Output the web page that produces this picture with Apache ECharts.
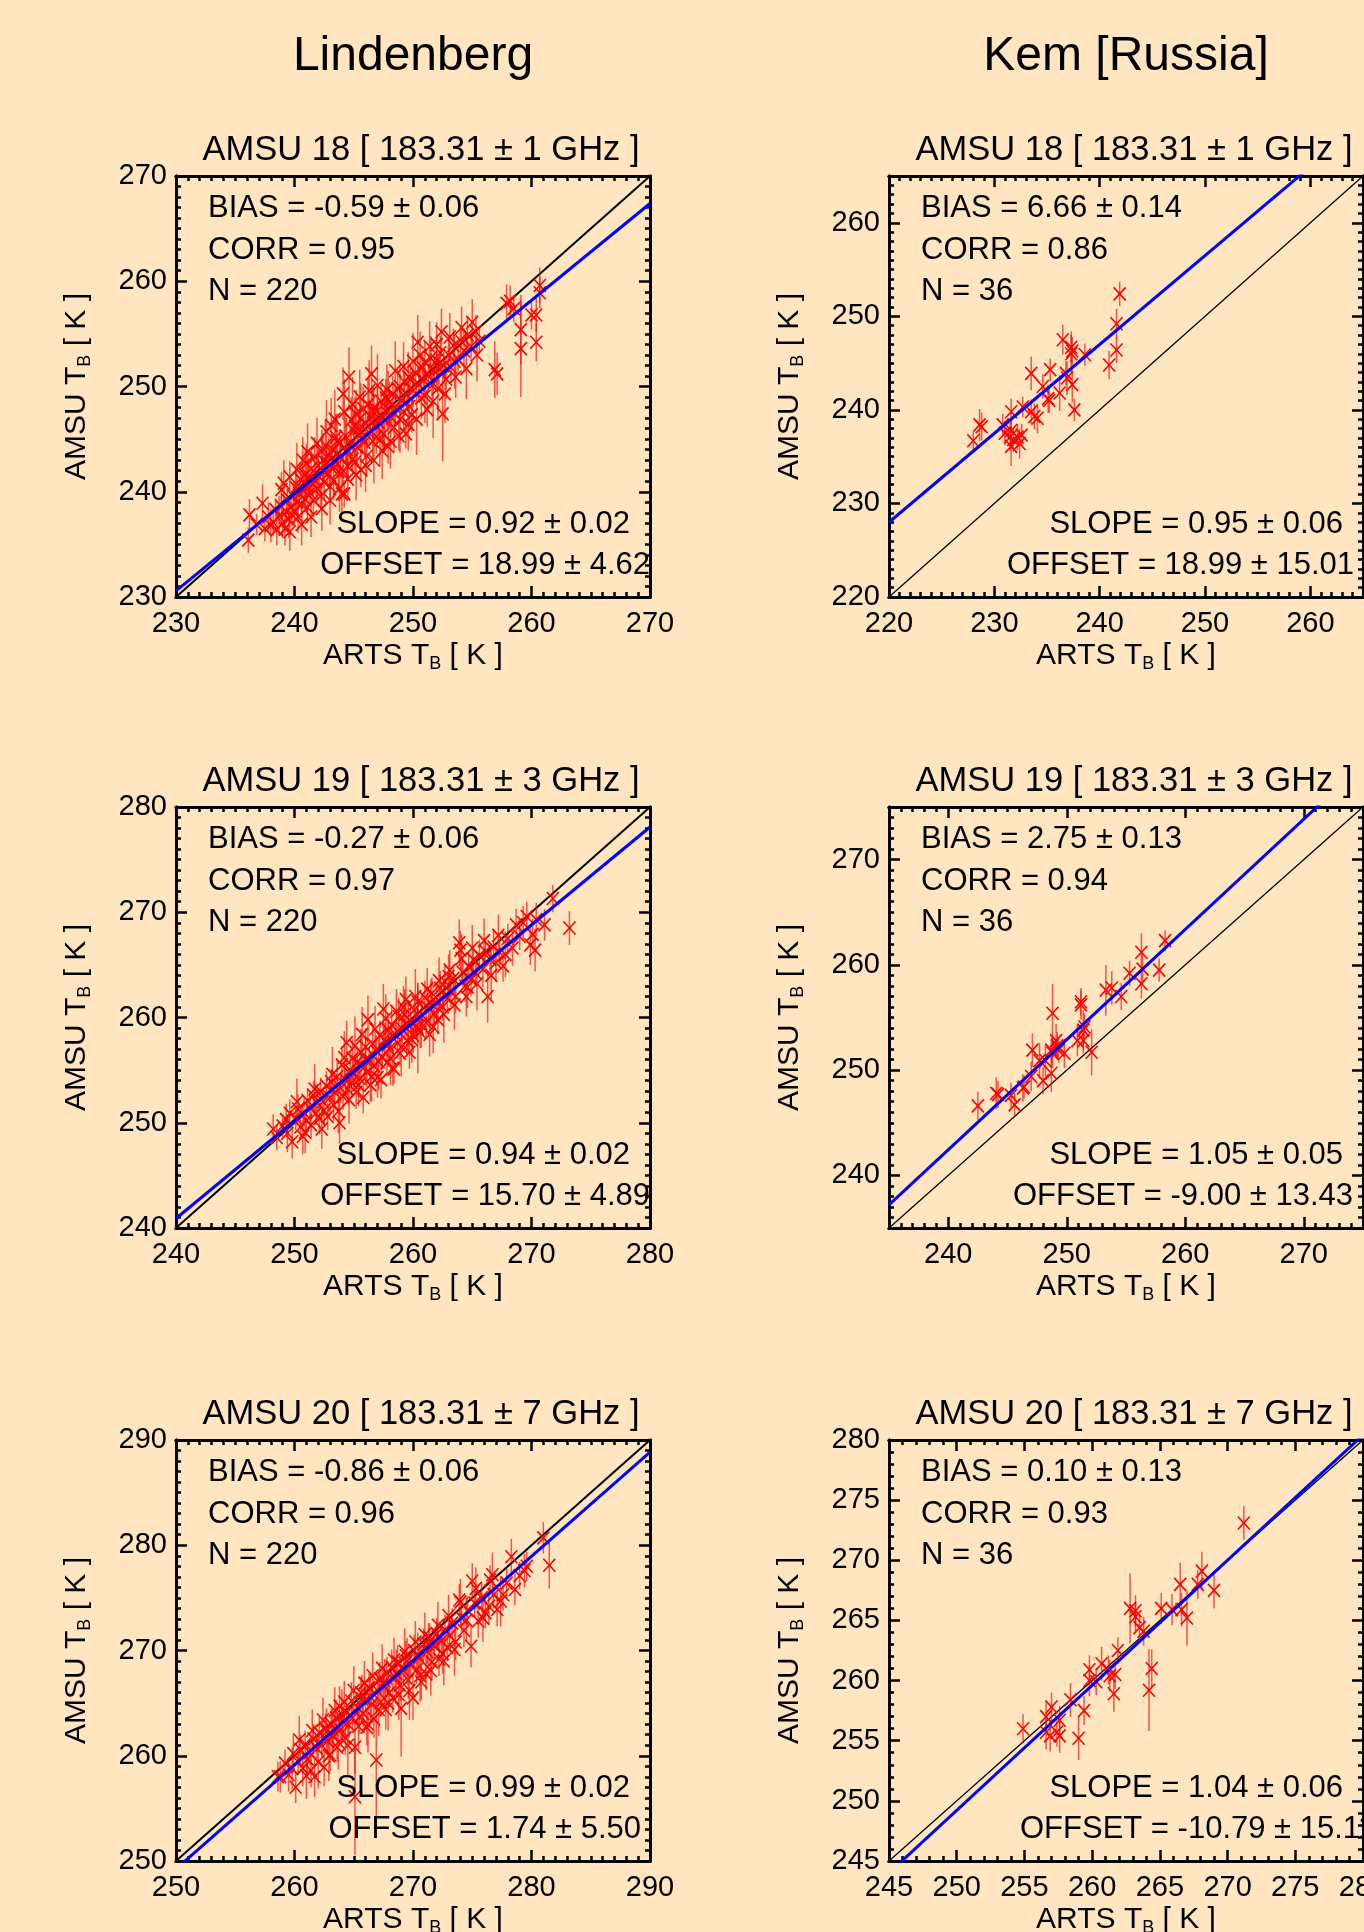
<!DOCTYPE html>
<html>
<head>
<meta charset="utf-8">
<script src="https://cdn.jsdelivr.net/npm/echarts@6/dist/echarts.min.js"></script>
<style>
  html, body { margin: 0; padding: 0; background: #FFE5C0; }
  #main { width: 1364px; height: 1932px; }
</style>
</head>
<body>
<div id="main"></div>
<script>
// ---- data (panel order: row by row, Lindenberg left, Kem right) ----
const columnTitles = ['Lindenberg', 'Kem [Russia]'];
const panelTitles = [
  'AMSU 18 [ 183.31 ± 1 GHz ]', 'AMSU 18 [ 183.31 ± 1 GHz ]',
  'AMSU 19 [ 183.31 ± 3 GHz ]', 'AMSU 19 [ 183.31 ± 3 GHz ]',
  'AMSU 20 [ 183.31 ± 7 GHz ]', 'AMSU 20 [ 183.31 ± 7 GHz ]'
];
const axisMin = [230, 220, 240, 235, 250, 245];
const axisMax = [270, 265, 280, 275, 290, 280];
const tickValues = [
  [230, 240, 250, 260, 270],
  [220, 230, 240, 250, 260],
  [240, 250, 260, 270, 280],
  [240, 250, 260, 270],
  [250, 260, 270, 280, 290],
  [245, 250, 255, 260, 265, 270, 275, 280]
];
const biasLabels = ['BIAS = -0.59 ± 0.06', 'BIAS = 6.66 ± 0.14', 'BIAS = -0.27 ± 0.06',
                    'BIAS = 2.75 ± 0.13', 'BIAS = -0.86 ± 0.06', 'BIAS = 0.10 ± 0.13'];
const corrLabels = ['CORR = 0.95', 'CORR = 0.86', 'CORR = 0.97', 'CORR = 0.94', 'CORR = 0.96', 'CORR = 0.93'];
const nLabels = ['N = 220', 'N = 36', 'N = 220', 'N = 36', 'N = 220', 'N = 36'];
const slopeLabels = ['SLOPE = 0.92 ± 0.02', 'SLOPE = 0.95 ± 0.06', 'SLOPE = 0.94 ± 0.02',
                     'SLOPE = 1.05 ± 0.05', 'SLOPE = 0.99 ± 0.02', 'SLOPE = 1.04 ± 0.06'];
const offsetLabels = ['OFFSET = 18.99 ± 4.62', 'OFFSET = 18.99 ± 15.01', 'OFFSET = 15.70 ± 4.89',
                      'OFFSET = -9.00 ± 13.43', 'OFFSET = 1.74 ± 5.50', 'OFFSET = -10.79 ± 15.11'];
// regression lines as drawn (slope, offset)
const fitSlope = [0.92, 0.95, 0.93, 1.047, 0.99, 1.04];
const fitOffset = [18.99, 18.99, 17.7, -8.85, 1.74, -10.79];

// [ARTS Tb, AMSU Tb, error]
const lind18 = [
[236.1,235.4,1.2],[236.2,237.8,1.5],[236.8,236.9,1.0],[237.3,238.9,1.8],[237.5,236.5,1.2],[237.8,237.6,1.4],[238.0,236.8,1.6],[238.2,237.1,1.3],[238.4,238.3,1.1],[238.5,236.4,1.5],[238.7,237.7,1.9],[238.9,240.2,1.7],[238.9,238.6,1.2],[239.0,237.0,1.4],[239.2,236.5,1.6],[239.3,238.1,1.0],[239.4,239.2,1.3],[239.5,237.4,1.8],[239.6,241.4,1.5],[239.7,238.5,1.2],[239.8,237.8,1.1],[239.9,239.6,1.4],
[240.0,238.2,1.3],[240.1,240.4,2.0],[240.2,239.0,1.2],[240.3,237.6,1.5],[240.4,239.8,1.1],[240.5,241.2,1.6],[240.6,238.8,1.3],[240.7,243.0,2.2],[240.8,240.1,1.4],[240.9,239.3,1.0],[241.0,242.7,1.8],[241.0,240.6,1.2],[241.1,238.5,1.5],[241.2,241.5,1.7],[241.3,239.9,1.3],[241.4,242.2,2.0],[241.5,240.8,1.1],[241.6,239.2,1.6],[241.7,243.3,1.9],[241.8,241.0,1.4],[241.9,240.3,1.2],[242.0,242.5,2.3],
[242.1,241.4,1.5],[242.2,239.6,1.3],[242.3,243.8,2.1],[242.4,242.0,1.2],[242.5,240.9,1.7],[242.6,244.4,2.4],[242.7,242.8,1.4],[242.8,241.7,1.1],[242.9,243.4,1.8],[243.0,240.5,1.6],[243.1,246.3,2.6],[243.1,242.3,1.3],[243.2,244.0,1.5],[243.3,241.1,1.9],[243.4,243.0,1.2],[243.5,245.2,2.2],[243.6,242.6,1.4],[243.7,241.9,1.7],[243.8,244.6,1.3],[243.9,243.3,2.0],[244.0,239.8,1.8],[244.1,249.3,2.5],[244.1,242.0,1.4],
[244.2,239.8,1.3],[244.3,245.3,2.4],[244.4,243.7,1.5],[244.5,242.4,1.2],[244.6,250.9,2.8],[244.7,244.5,1.6],[244.8,246.8,2.2],[244.9,243.1,1.4],[245.0,245.8,1.9],[245.1,242.8,1.1],[245.2,247.4,2.3],[245.3,244.2,1.5],[245.4,246.0,1.8],[245.5,249.0,2.6],[245.6,242.1,1.7],[245.7,245.1,1.3],[245.8,247.9,2.1],[245.9,244.7,1.4],[246.0,246.5,1.6],[246.1,243.4,2.0],
[246.2,248.3,2.4],[246.3,245.6,1.2],[246.4,247.1,1.5],[246.5,251.2,2.7],[246.6,244.8,1.8],[246.7,248.0,1.9],[246.8,246.3,1.3],[246.9,245.2,1.6],[247.0,247.7,2.2],[247.1,246.6,1.4],[247.2,244.9,2.5],[247.3,248.6,1.7],[247.4,247.2,1.2],[247.5,245.5,1.5],[247.6,246.8,3.0],[247.7,248.9,1.8],[247.8,247.5,1.4],[247.9,244.3,1.6],
[248.0,248.5,2.0],[248.2,247.0,1.3],[248.3,249.3,1.7],[248.4,246.1,2.3],[248.5,248.0,1.5],[248.7,249.8,1.9],[248.8,245.3,1.4],[248.9,250.0,2.1],[249.0,248.7,1.2],[249.2,247.6,1.6],[249.3,250.4,1.8],[249.4,245.5,1.4],[249.5,249.2,1.3],[249.7,248.1,2.2],[249.8,250.7,1.5],[249.9,247.3,1.7],
[250.0,249.6,1.6],[250.2,251.3,1.4],[250.4,254.2,2.6],[250.5,250.2,1.5],[250.7,248.9,2.0],[250.8,251.8,1.3],[250.9,250.6,1.7],[251.0,252.3,1.9],[251.2,247.8,1.6],[251.3,251.0,1.2],[251.5,252.7,2.1],[251.6,250.1,1.8],[251.8,251.5,1.4],[252.0,252.5,2.4],[252.1,249.8,3.0],[252.2,251.7,1.5],[252.3,253.2,1.6],[252.4,255.2,2.2],[252.5,247.4,4.5],[252.6,252.0,1.3],[252.8,250.7,1.9],
[253.0,253.0,1.7],[253.2,251.8,1.4],[253.4,253.9,1.6],[253.6,250.9,2.0],[253.8,252.6,1.5],[254.0,254.4,1.3],[254.3,253.4,2.1],[254.6,254.9,1.8],[254.9,253.8,1.4],[255.3,255.2,1.6],[255.6,254.3,1.2],
[256.9,251.6,2.7],[257.1,251.2,2.0],[257.9,257.9,1.8],[258.2,258.1,1.5],[258.5,257.4,1.3],[259.1,255.4,3.3],[259.1,253.6,4.6],[260.0,256.8,1.4],[260.4,256.8,1.6],[260.4,254.2,1.8],[260.7,259.6,1.7],[260.7,258.9,1.5],
[239.1,240.8,2.2],[239.6,236.2,1.8],[240.2,242.1,2.5],[240.6,236.9,2.0],[241.1,243.8,2.7],[241.4,237.6,1.9],[241.9,244.6,2.4],[242.3,238.4,2.1],[242.7,245.7,3.0],[243.0,239.2,2.3],[243.4,246.9,2.8],[243.8,240.3,2.2],[244.2,247.6,3.1],[244.5,241.2,2.0],[244.9,248.3,2.6],[245.2,241.6,2.4],[245.6,247.0,3.3],[246.0,242.5,2.5],[246.3,249.6,2.9],[246.7,243.0,2.2],[247.0,250.1,3.0],[247.4,243.9,2.7],[247.8,249.7,2.4],[248.1,244.8,2.6],[248.5,251.5,2.8],[248.9,246.9,3.2],[249.2,251.9,2.3],[249.6,246.4,2.5],[250.0,252.4,2.7],[250.3,246.9,3.4],[250.6,253.0,2.2],[251.0,249.1,2.6],[251.4,253.8,2.4],[251.7,248.6,3.5],[252.0,254.0,2.1],[252.7,249.3,2.8],[253.1,254.7,2.3],[253.5,252.4,2.6],[254.1,255.6,2.0],[254.5,251.7,2.9],[255.0,256.1,2.2],[255.4,253.0,2.5],[243.6,244.8,2.6],[245.1,246.2,2.8],[246.6,247.6,2.5],[247.9,248.8,2.7],[249.6,250.9,2.4],[244.4,244.0,3.0],[242.4,243.0,2.6],[240.9,241.6,2.4]
];
const kem18 = [
[228.0,236.7,1.0],[228.6,238.4,1.7],[228.8,238.2,1.5],[230.8,238.4,1.2],[231.0,237.5,1.3],[231.6,239.8,1.4],[231.5,237.1,1.5],[231.8,236.8,1.3],[231.6,236.1,2.1],[232.2,237.1,1.4],[232.4,236.4,1.6],[232.6,237.3,1.2],[232.7,240.3,1.1],[233.5,243.9,1.8],[233.5,239.8,1.3],[233.8,239.3,1.4],[234.1,239.1,1.6],[234.6,242.5,1.3],[235.3,244.3,1.2],[235.1,241.2,1.5],[235.2,241.0,1.3],[236.2,241.8,1.9],[236.5,247.5,1.6],[236.8,243.9,1.3],[236.9,243.4,1.8],[237.3,246.7,1.7],[237.3,246.0,2.0],[237.4,242.7,1.9],[237.6,240.0,1.2],[238.6,245.9,1.2],[240.9,244.8,1.5],[241.6,249.2,1.6],[241.6,246.4,1.4],[241.9,252.4,1.3],[231.6,237.8,1.4],[237.4,246.3,1.5]
];
const lind19 = [
[248.2,249.4,1.4],[248.5,248.6,1.2],[249.0,249.7,1.1],[249.3,250.3,1.5],[249.4,249.0,1.8],[249.6,250.9,1.3],[249.8,248.2,1.6],[250.1,250.5,1.2],[250.3,251.3,1.4],[250.5,249.6,1.0],[250.7,248.7,1.7],[250.8,251.0,1.3],[251.0,250.2,1.5],[251.1,252.1,1.2],[251.3,251.4,1.6],[251.4,249.8,1.3],[251.6,252.6,1.4],[251.8,250.9,1.1],[251.9,251.9,1.8],[252.1,250.4,1.5],[252.2,253.0,1.3],[252.4,252.0,1.2],[252.5,251.2,1.6],[252.7,253.5,1.4],[252.8,250.6,1.3],[253.0,252.4,1.7],[253.1,253.9,1.2],[253.3,251.7,1.5],[253.4,252.9,1.3],[253.6,254.4,1.6],[253.8,250.0,2.0],[253.9,253.3,1.4],[254.0,255.5,1.8],[254.1,252.5,1.3],[254.3,254.1,1.2],[254.4,257.6,2.1],[254.5,253.2,1.5],[254.7,255.0,1.7],[254.8,253.8,1.2],[254.9,256.1,1.9],[255.0,254.6,1.3],[255.2,252.9,1.6],[255.3,255.8,1.4],[255.5,254.2,1.2],[255.6,256.7,2.2],[255.8,252.4,1.5],[255.9,255.3,1.3],[256.0,257.2,1.8],[256.1,254.8,1.4],[256.2,259.8,2.3],[256.3,256.0,1.2],[256.4,253.6,1.6],[256.6,257.5,1.7],[256.7,255.4,1.3],[256.9,256.8,1.5],[257.0,254.3,1.9],[257.2,258.3,1.4],[257.3,254.1,1.8],[257.4,256.3,1.2],[257.5,260.8,2.4],[257.6,257.9,1.6],[257.8,255.7,1.3],[257.9,258.8,1.5],[258.0,257.0,1.2],[258.2,259.3,1.9],[258.3,255.2,1.7],[258.4,255.1,1.4],[258.5,258.4,1.3],[258.7,257.6,1.6],[258.8,260.1,1.8],[258.9,256.6,1.2],[259.1,258.9,1.4],[259.2,261.0,2.0],[259.4,261.7,2.2],[259.5,257.8,1.5],[259.7,256.7,1.6],[259.8,259.6,1.3],[260.0,258.3,1.7],[260.1,260.7,1.4],[260.3,259.2,1.2],[260.4,259.0,4.3],[260.4,261.5,1.8],[260.6,258.6,1.5],[260.8,260.2,1.3],[261.0,261.9,1.6],[261.1,259.5,1.4],[261.3,260.9,1.2],[261.4,258.4,2.1],[261.6,262.3,1.5],[261.8,260.4,1.3],[262.0,261.4,1.7],[262.1,259.8,1.4],[262.3,262.8,1.6],[262.5,261.0,1.3],[262.7,263.4,1.5],[262.9,261.8,1.2],[263.1,264.5,1.9],[263.2,262.4,1.4],[263.4,263.7,1.3],[263.6,262.0,1.6],[263.9,267.1,2.2],[264.0,266.4,1.8],[264.2,264.3,1.4],[264.4,263.0,1.5],[264.5,262.0,1.9],[264.7,264.8,1.3],[264.9,263.6,1.6],[265.1,265.5,1.4],[265.3,264.2,1.2],[265.6,265.9,1.5],[265.9,264.6,1.7],[266.1,266.3,1.3],[266.3,262.0,2.5],[266.5,265.5,1.4],[266.8,266.7,1.6],[267.0,265.2,1.8],[267.3,266.2,1.3],[267.6,264.9,1.5],[268.0,267.5,1.4],[268.4,266.6,1.7],[268.7,268.8,1.5],[269.0,267.7,1.3],[269.3,269.0,1.6],[269.6,269.6,1.4],[269.9,266.9,1.9],[270.1,267.9,1.5],[270.3,266.4,2.0],[270.4,269.3,1.6],[271.1,268.8,1.5],[271.8,271.3,1.3],[273.2,268.5,1.6],
[250.2,252.0,2.2],[250.9,249.1,2.0],[251.7,253.2,2.4],[252.3,249.4,1.9],[253.2,254.6,2.6],[253.7,251.1,2.1],[254.2,256.2,2.5],[254.6,252.2,2.3],[255.1,257.3,2.8],[255.4,253.6,2.0],[255.7,258.4,2.6],[256.5,254.4,2.4],[256.8,258.9,2.2],[257.1,255.8,2.7],[257.7,259.9,2.3],[258.1,256.1,2.5],[258.6,260.6,2.1],[259.0,257.2,2.8],[259.3,260.3,2.4],[259.9,257.9,2.2],[260.2,262.0,2.6],[260.7,259.4,2.3],[261.2,262.7,2.0],[261.7,259.1,2.5],[262.2,263.5,2.2],[262.6,260.3,2.7],[263.0,263.9,2.1],[263.5,261.2,2.4],[264.1,265.6,2.3],[264.6,262.9,2.0],[265.0,266.6,2.2],[265.4,263.2,2.5],[266.0,267.3,2.1],[266.6,264.0,2.3],[267.2,267.8,2.0],[267.8,266.0,2.2],[256.0,256.0,2.3],[257.9,257.4,2.1],[259.6,259.3,2.4],[261.5,261.4,2.2]
];
const kem19 = [
[242.5,246.6,1.35],[244.05,247.8,1.5],[244.2,247.7,1.3],[245.3,247.6,1.2],[245.6,246.7,1.1],[246.3,248.3,1.3],[246.4,248.4,1.1],[247.0,249.4,1.4],[247.1,251.9,1.6],[247.7,250.9,1.7],[248.0,249.0,1.3],[248.2,250.9,1.5],[248.7,249.7,1.8],[248.7,251.9,1.2],[248.8,255.4,2.8],[248.8,251.6,1.4],[249.1,252.8,1.6],[249.2,252.3,1.3],[249.3,251.9,1.2],[249.8,251.6,1.4],[250.9,252.8,1.5],[251.2,256.5,1.3],[251.2,256.2,1.4],[251.4,253.8,1.9],[251.4,252.8,1.2],[251.5,254.1,1.3],[252.1,251.7,2.2],[253.3,257.6,2.4],[253.8,257.8,1.6],[254.6,257.0,1.3],[255.3,259.2,1.2],[256.3,261.2,1.8],[256.4,259.6,1.5],[256.3,258.2,1.4],[257.8,259.5,1.1],[258.3,262.3,1.0]
];
const lind20 = [
[258.6,258.0,1.4],[258.8,258.0,1.5],[259.2,259.3,1.3],[259.5,258.2,1.6],[259.9,260.2,1.8],[260.1,257.0,1.5],[260.3,259.4,1.2],[260.5,260.6,1.4],[260.7,258.8,1.7],[260.9,261.1,1.3],[261.1,259.7,1.5],[261.3,260.3,1.2],[261.4,258.6,1.6],[261.6,261.6,1.4],[261.7,258.0,1.9],[261.9,260.7,1.3],[262.1,262.2,1.5],[262.3,261.0,1.2],[262.5,258.9,1.8],[262.6,262.6,1.4],[262.8,261.4,1.3],[263.0,260.1,1.6],[263.1,263.0,1.5],[263.3,261.9,1.2],[263.5,263.6,1.7],[263.6,260.8,1.4],[263.8,264.7,1.9],[263.9,262.5,1.3],[264.1,263.2,1.5],[264.3,261.7,1.6],[264.4,264.1,1.4],[264.6,262.9,1.2],[264.8,265.2,1.8],[264.9,263.6,1.3],[265.1,260.8,2.5],[265.1,256.1,5.5],[265.3,264.6,1.4],[265.5,263.7,1.6],[265.6,266.0,1.5],[265.8,264.0,1.3],[266.0,265.3,1.2],[266.1,262.7,1.7],[266.3,266.5,1.4],[266.5,264.9,1.5],[266.7,263.5,1.8],[266.9,259.6,6.0],[267.0,266.2,1.3],[267.2,267.3,1.6],[267.3,265.1,1.4],[267.5,266.8,1.2],[267.7,264.4,1.9],[267.8,267.9,1.5],[268.0,266.0,1.3],[268.2,268.4,1.7],[268.3,265.5,1.4],[268.5,267.4,1.2],[268.7,268.9,1.6],[268.9,266.7,1.5],[269.0,264.5,4.6],[269.2,268.1,1.3],[269.4,269.5,1.4],[269.6,267.2,1.8],[269.8,268.6,1.2],[270.0,265.5,2.1],[270.1,270.0,1.5],[270.3,268.2,1.4],[270.5,269.3,1.3],[270.7,267.0,1.7],[270.9,270.6,1.5],[271.1,267.8,1.6],[271.2,269.9,1.2],[271.4,271.2,1.4],[271.6,268.9,1.8],[271.8,270.4,1.3],[272.0,271.6,1.5],[272.2,269.2,1.6],[272.4,270.9,1.2],[272.5,269.7,1.9],[272.7,272.0,1.4],[272.9,270.3,1.3],[273.1,271.4,1.5],[273.3,272.6,1.4],[273.6,270.8,1.7],[273.9,274.8,1.5],[274.1,273.1,1.3],[274.3,271.9,1.6],[274.6,273.8,1.4],[274.9,270.4,2.0],[275.0,276.6,1.7],[275.2,274.5,1.3],[275.5,272.8,1.6],[275.8,275.0,1.4],[276.1,273.6,1.5],[276.4,274.2,1.8],[276.5,276.7,1.4],[276.8,275.3,1.3],[277.1,273.9,1.6],[277.6,275.3,1.5],[277.9,276.4,1.4],[278.3,278.9,1.7],[278.6,275.8,1.5],[279.0,277.1,1.3],[279.4,277.6,1.6],[279.6,278.0,1.4],[281.0,280.7,1.5],[281.5,278.1,2.2],
[259.8,258.8,2.0],[260.4,261.5,2.3],[261.0,258.1,2.2],[261.5,262.4,2.0],[262.0,259.4,2.5],[262.4,263.4,2.1],[262.9,260.0,2.4],[263.4,264.3,2.2],[263.7,261.3,2.6],[264.2,265.1,2.0],[264.5,261.0,2.8],[265.0,266.2,2.3],[265.4,262.8,2.4],[265.9,266.9,2.1],[266.2,263.0,2.7],[266.6,267.6,2.2],[267.1,264.4,2.5],[267.4,268.3,2.3],[267.9,265.0,2.6],[268.4,269.1,2.1],[268.8,265.8,2.4],[269.3,269.9,2.2],[269.7,266.2,2.8],[270.2,270.8,2.0],[270.6,267.6,2.5],[271.0,271.5,2.1],[271.5,268.1,2.4],[272.1,272.4,2.2],[272.6,269.0,2.3],[273.0,273.3,2.0],[273.5,270.1,2.5],[274.0,274.6,2.2],[274.5,272.9,2.1],[275.3,275.9,2.0],[275.9,273.1,2.3],[276.7,277.2,2.1],[277.4,274.7,2.4],[262.7,262.3,2.2],[264.0,263.9,2.4],[265.7,265.4,2.3],[267.6,267.1,2.1],[269.5,269.0,2.2],[271.3,270.6,2.0],[263.2,262.0,2.5],[266.4,265.6,2.2],[268.6,267.8,2.3],[270.4,269.6,2.1]
];
const kem20 = [
[254.9,256.0,1.2],[256.6,257.0,1.3],[256.6,255.7,1.4],[257.0,257.8,1.2],[256.9,255.4,1.3],[257.4,255.7,1.2],[257.6,255.4,1.4],[257.6,256.7,1.2],[258.4,258.4,1.4],[259.0,255.2,1.8],[259.4,257.5,1.2],[259.8,260.9,1.2],[259.8,260.0,1.3],[260.3,259.9,1.1],[260.7,261.4,1.4],[261.2,260.9,1.2],[261.3,260.4,1.3],[261.6,258.9,1.5],[261.7,260.5,1.2],[261.9,262.5,1.1],[262.8,266.0,2.9],[263.2,265.8,1.3],[263.2,265.3,1.2],[263.5,264.4,1.1],[263.8,264.1,1.2],[264.2,259.2,3.4],[264.4,261.0,1.6],[265.1,266.0,1.3],[265.9,265.9,1.3],[266.5,268.0,1.8],[266.6,265.9,1.4],[267.0,265.2,2.3],[267.8,268.0,1.2],[268.1,269.1,1.6],[269.0,267.5,1.5],[271.2,273.1,1.4]
];
const panelPoints = [lind18, kem18, lind19, kem19, lind20, kem20];

// ---- layout ----
const FONT = '"Liberation Sans", Arial, Helvetica, sans-serif';
const colLeft = [176, 889];
const rowTop = [176, 807, 1440];
const boxW = 474, boxH = 421;
const offsetInset = [0, 9, 0, 10, 9, -12];

function renderErr(params, api) {
  const x = api.value(0), y = api.value(1), e = api.value(2);
  const c = api.coord([x, y]);
  const lo = api.coord([x, y - e]);
  const hi = api.coord([x, y + e]);
  const hw = 6, hh = 6.5;
  return {
    type: 'group',
    children: [
      { type: 'line', shape: { x1: c[0], y1: lo[1], x2: c[0], y2: hi[1] },
        style: { stroke: 'rgba(255,0,0,0.65)', lineWidth: 1.5 } },
      { type: 'line', shape: { x1: c[0] - hw, y1: c[1] - hh, x2: c[0] + hw, y2: c[1] + hh },
        style: { stroke: '#ff0000', lineWidth: 1.6 } },
      { type: 'line', shape: { x1: c[0] - hw, y1: c[1] + hh, x2: c[0] + hw, y2: c[1] - hh },
        style: { stroke: '#ff0000', lineWidth: 1.6 } }
    ]
  };
}

const nameRich = {
  t: { fontSize: 30, fontFamily: FONT, color: '#000', lineHeight: 34 },
  s: { fontSize: 18, fontFamily: FONT, color: '#000', lineHeight: 14, verticalAlign: 'bottom' }
};

function majorAxis(p, pos, lo, hi, ticks, labeled, isX) {
  const ax = {
    gridIndex: p, type: 'value', position: pos, min: lo, max: hi,
    axisLine: { show: true, onZero: false, lineStyle: { color: '#000', width: 3 } },
    axisTick: { show: true, inside: true, length: 11, customValues: ticks,
                lineStyle: { color: '#000', width: 2.5 } },
    axisLabel: { show: false },
    splitLine: { show: false }
  };
  if (labeled) {
    ax.axisLabel = { show: true, customValues: ticks, margin: isX ? 12 : 9,
                     fontSize: 29, color: '#000', fontFamily: FONT };
    ax.name = isX ? '{t|ARTS T}{s|B}{t| [ K ]}' : '{t|AMSU T}{s|B}{t| [ K ]}';
    ax.nameLocation = 'middle';
    ax.nameGap = isX ? 42 : 82;
    ax.nameTextStyle = { rich: nameRich };
  }
  return ax;
}

function minorAxis(p, pos, lo, hi) {
  return {
    gridIndex: p, type: 'value', position: pos, min: lo, max: hi, interval: 1,
    axisLine: { show: true, onZero: false, lineStyle: { color: '#000', width: 3 } },
    axisTick: { show: true, inside: true, length: 5, lineStyle: { color: '#000', width: 2.5 } },
    axisLabel: { show: false },
    splitLine: { show: false }
  };
}

const grids = [], xAxes = [], yAxes = [], series = [], graphics = [];

columnTitles.forEach((t, c) => {
  graphics.push({ type: 'text', x: colLeft[c] + boxW / 2, y: 57,
    style: { text: t, fontSize: 48, fontFamily: FONT, fill: '#000', align: 'center', verticalAlign: 'middle' } });
});

for (let p = 0; p < 6; p++) {
  const col = p % 2, row = Math.floor(p / 2);
  const left = colLeft[col], top = rowTop[row];
  const lo = axisMin[p], hi = axisMax[p], ticks = tickValues[p];
  grids.push({ left: left, top: top, width: boxW, height: boxH, outerBoundsMode: 'none' });

  xAxes.push(majorAxis(p, 'bottom', lo, hi, ticks, true, true));
  xAxes.push(minorAxis(p, 'bottom', lo, hi));
  xAxes.push(majorAxis(p, 'top', lo, hi, ticks, false, true));
  xAxes.push(minorAxis(p, 'top', lo, hi));
  yAxes.push(majorAxis(p, 'left', lo, hi, ticks, true, false));
  yAxes.push(minorAxis(p, 'left', lo, hi));
  yAxes.push(majorAxis(p, 'right', lo, hi, ticks, false, false));
  yAxes.push(minorAxis(p, 'right', lo, hi));

  const ai = 4 * p;
  series.push({
    type: 'line', xAxisIndex: ai, yAxisIndex: ai, data: [[lo, lo], [hi, hi]],
    symbol: 'none', silent: true, clip: true, z: 2,
    lineStyle: { color: '#000', width: col === 0 ? 2 : 1.2 }
  });
  series.push({
    type: 'custom', xAxisIndex: ai, yAxisIndex: ai, data: panelPoints[p],
    renderItem: renderErr, clip: true, silent: true, z: 3
  });
  series.push({
    type: 'line', xAxisIndex: ai, yAxisIndex: ai,
    data: [[lo, fitSlope[p] * lo + fitOffset[p]], [hi, fitSlope[p] * hi + fitOffset[p]]],
    symbol: 'none', silent: true, clip: true, z: 4,
    lineStyle: { color: '#0000ff', width: 3 }
  });

  const txt = (text, x, y, align) => ({ type: 'text', x: x, y: y, z: 10,
    style: { text: text, fontSize: 31, fontFamily: FONT, fill: '#000', align: align, verticalAlign: 'middle' } });
  graphics.push({ type: 'text', x: left + boxW / 2 + 8, y: top - 26,
    style: { text: panelTitles[p], fontSize: 34.5, fontFamily: FONT, fill: '#000', align: 'center', verticalAlign: 'middle' } });
  graphics.push(txt(biasLabels[p], left + 32, top + 32, 'left'));
  graphics.push(txt(corrLabels[p], left + 32, top + 74, 'left'));
  graphics.push(txt(nLabels[p], left + 32, top + 115, 'left'));
  graphics.push(txt(slopeLabels[p], left + boxW - 20, top + 348, 'right'));
  graphics.push(txt(offsetLabels[p], left + boxW - offsetInset[p], top + 389, 'right'));
}

const myChart = echarts.init(document.getElementById('main'));
const option = {
  backgroundColor: '#FFE5C0',
  animation: false,
  grid: grids,
  xAxis: xAxes,
  yAxis: yAxes,
  series: series,
  graphic: graphics
};
myChart.setOption(option);
</script>
</body>
</html>
